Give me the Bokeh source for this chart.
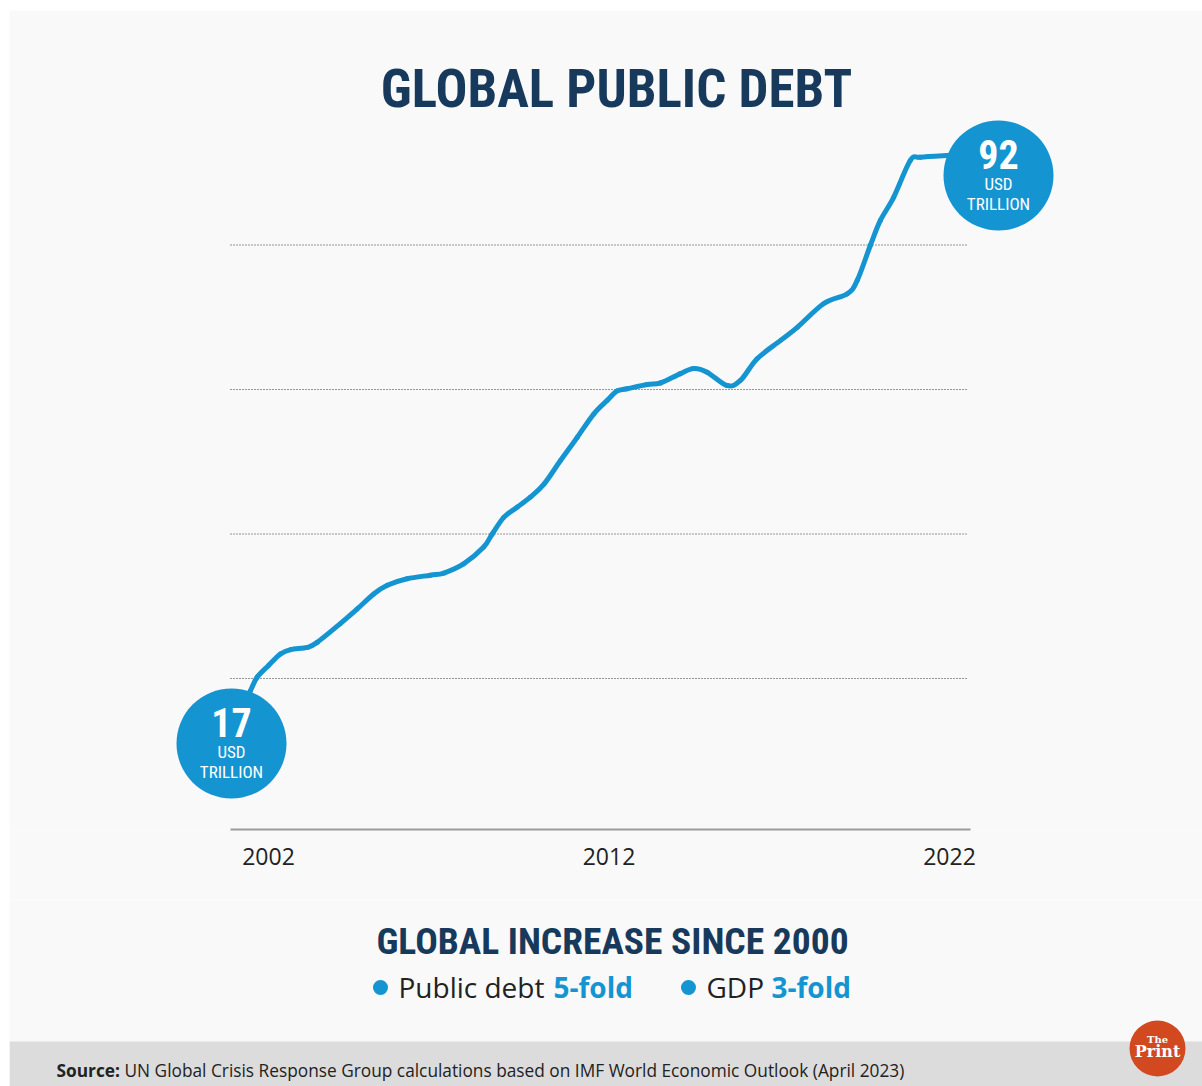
from bokeh.plotting import figure
from bokeh.models import Range1d, FixedTicker, Label, BoxAnnotation
from bokeh.layouts import column
from bokeh.embed import file_html
from bokeh.resources import INLINE
from bokeh.core.properties import value

# ---------------- data ----------------
title_text = "GLOBAL PUBLIC DEBT"
subtitle_text = "GLOBAL INCREASE SINCE 2000"
source_label = "Source:"
source_text = "UN Global Crisis Response Group calculations based on IMF World Economic Outlook (April 2023)"

years = [2001.20, 2001.47, 2001.67, 2002.00, 2002.35, 2002.65, 2003.14, 2003.43, 2004.11,
         2004.60, 2005.09, 2005.49, 2006.07, 2006.76, 2007.15, 2007.74, 2008.32, 2008.57,
         2008.91, 2009.30, 2009.69, 2010.09, 2010.58, 2011.07, 2011.55, 2011.95, 2012.24,
         2012.53, 2013.12, 2013.51, 2014.10, 2014.49, 2014.88, 2015.47, 2015.86, 2016.35,
         2017.04, 2017.53, 2018.31, 2019.00, 2019.29, 2019.68, 2019.97, 2020.36, 2020.85,
         2021.14, 2021.93, 2022.30]
debt = [15.5, 18.3, 20.2, 21.8, 23.4, 24.0, 24.3, 25.0, 27.6,
        29.6, 31.7, 32.9, 33.8, 34.3, 34.6, 35.9, 38.2, 40.0,
        42.3, 43.7, 45.1, 46.9, 50.2, 53.4, 56.6, 58.5, 59.8,
        60.1, 60.7, 60.9, 62.2, 62.9, 62.4, 60.55, 61.25, 64.25,
        66.8, 68.6, 71.9, 73.25, 75.1, 80.0, 83.4, 86.6, 91.7,
        92.15, 92.4, 92.45]

tick_years = [2002, 2012, 2022]
grid_values = [20, 40, 60, 80]
badge_numbers = ["17", "92"]
badge_units = ["USD", "USD"]
badge_scales = ["TRILLION", "TRILLION"]
legend_names = ["Public debt", "GDP"]
legend_folds = ["5-fold", "3-fold"]

# ---------------- style / layout ----------------
BLUE = "#1495d2"
NAVY = "#173a5c"
TEXT = "#222222"
BG = "#f9f9f9"
FOOT = "#dcdcdc"
ORANGE = "#d2491f"
COND = "Roboto Condensed, DejaVu Sans Condensed, Liberation Sans Narrow, Roboto"
SANS = "Open Sans"
SHIFT = 0.37   # empirical baseline correction (fraction of font size)

W, H_MAIN, H_BOT = 1193, 890, 186
OFF_X, OFF_Y = 9, 10
PX_YEAR = 34.05
PX_UNIT = 7.225
AXIS_PY = 829           # page y of axis line
FRAME_BOTTOM_BORDER = 900 - AXIS_PY

x_start = 2002 - (268 - OFF_X) / PX_YEAR
x_end = x_start + W / PX_YEAR
y_bottom = 20 - (AXIS_PY - 678) / PX_UNIT
y_top = y_bottom + (AXIS_PY - OFF_Y) / PX_UNIT


def X(px):
    return x_start + (px - OFF_X) / PX_YEAR


def Y(py, size=0.0):
    return y_bottom + (AXIS_PY - py + SHIFT * size) / PX_UNIT


p = figure(width=W, height=H_MAIN, x_range=Range1d(x_start, x_end),
           y_range=Range1d(y_bottom, y_top), toolbar_location=None,
           output_backend="svg", y_axis_location=None,
           min_border_left=0, min_border_right=0, min_border_top=0,
           min_border_bottom=FRAME_BOTTOM_BORDER,
           background_fill_color=BG, border_fill_color=BG, outline_line_color=None)
p.grid.visible = False

ax = p.xaxis[0]
ax.ticker = FixedTicker(ticks=tick_years)
ax.bounds = (X(230), X(970))
ax.axis_line_color = "#9c9c9c"
ax.axis_line_width = 2
ax.major_tick_line_color = None
ax.minor_tick_line_color = None
ax.major_tick_out = 0
ax.major_tick_in = 0
ax.major_label_standoff = 18
ax.major_label_text_font = SANS
ax.major_label_text_font_size = "23px"
ax.major_label_text_color = TEXT

# dotted reference lines
p.segment(x0=[X(230)] * len(grid_values), x1=[X(968)] * len(grid_values),
          y0=grid_values, y1=grid_values, line_color="#333333",
          line_width=1, line_dash="1 2")

# debt curve: smooth Catmull-Rom style curve through the read points
n = len(years)
x0, y0, x1, y1, cx0, cy0, cx1, cy1 = [], [], [], [], [], [], [], []
for i in range(n - 1):
    a = max(i - 1, 0)
    d = min(i + 2, n - 1)
    x0.append(years[i]); y0.append(debt[i])
    x1.append(years[i + 1]); y1.append(debt[i + 1])
    cx0.append(years[i] + (years[i + 1] - years[a]) / 6)
    cy0.append(debt[i] + (debt[i + 1] - debt[a]) / 6)
    cx1.append(years[i + 1] - (years[d] - years[i]) / 6)
    cy1.append(debt[i + 1] - (debt[d] - debt[i]) / 6)
p.bezier(x0=x0, y0=y0, x1=x1, y1=y1, cx0=cx0, cy0=cy0, cx1=cx1, cy1=cy1,
         line_color=BLUE, line_width=5, line_cap="round")

# badges
bx = [X(231), X(998)]
by = [Y(743), Y(175)]
p.scatter(bx, by, size=110, marker="circle", fill_color=BLUE, line_color=None)
p.text(bx, by, text=badge_numbers, text_font=value(COND), text_font_size=value("40px"),
       text_font_style="bold", text_color="white", text_align="center",
       text_baseline="alphabetic", y_offset=-6 - SHIFT * 40)
p.text(bx, by, text=badge_units, text_font=value(COND), text_font_size=value("17px"),
       text_color="white", text_align="center", text_baseline="alphabetic",
       y_offset=15 - SHIFT * 17)
p.text(bx, by, text=badge_scales, text_font=value(COND), text_font_size=value("17px"),
       text_color="white", text_align="center", text_baseline="alphabetic",
       y_offset=35 - SHIFT * 17)

p.add_layout(Label(x=X(616), y=Y(108, 53), text=title_text, text_font=COND,
                   text_font_size="53px", text_font_style="bold", text_color=NAVY,
                   text_align="center", text_baseline="alphabetic"))

# ---------------- bottom block ----------------
q = figure(width=W, height=H_BOT, x_range=Range1d(0, W), y_range=Range1d(H_BOT, 0),
           toolbar_location=None, output_backend="svg",
           x_axis_location=None, y_axis_location=None, min_border=0,
           background_fill_color=BG, border_fill_color=BG, outline_line_color=None)
q.grid.visible = False


def bx2(px):
    return px - OFF_X


def by2(py, size=0.0):
    return py - 900 - SHIFT * size


q.add_layout(Label(x=bx2(612), y=by2(954, 37.5), text=subtitle_text, text_font=COND,
                   text_font_size="37.5px", text_font_style="bold", text_color=NAVY,
                   text_align="center", text_baseline="alphabetic"))

q.scatter([bx2(380), bx2(688)], [by2(987), by2(987)], size=15, marker="circle",
          fill_color=BLUE, line_color=None)
for name, fold, nx, fx in zip(legend_names, legend_folds, [398, 706], [553, 771]):
    q.add_layout(Label(x=bx2(nx), y=by2(997, 28), text=name, text_font=SANS,
                       text_font_size="28px", text_color=TEXT, text_baseline="alphabetic"))
    q.add_layout(Label(x=bx2(fx), y=by2(997, 28), text=fold, text_font=SANS,
                       text_font_size="28px", text_font_style="bold", text_color=BLUE,
                       text_baseline="alphabetic"))

q.add_layout(BoxAnnotation(left=0, right=W, top=by2(1041), bottom=by2(1086),
                           fill_color=FOOT, fill_alpha=1, line_color=None,
                           level="underlay"))
q.add_layout(Label(x=bx2(56), y=by2(1076, 17.3), text=source_label, text_font=SANS,
                   text_font_size="17.3px", text_font_style="bold", text_color=TEXT,
                   text_baseline="alphabetic"))
q.add_layout(Label(x=bx2(124), y=by2(1076, 17.3), text=source_text, text_font=SANS,
                   text_font_size="17.3px", text_color=TEXT, text_baseline="alphabetic"))

# logo
q.scatter([bx2(1157)], [by2(1048)], size=56, marker="circle", fill_color=ORANGE, line_color=None)
q.add_layout(Label(x=bx2(1157), y=by2(1043, 10), text="The", text_font="DejaVu Serif",
                   text_font_size="10px", text_font_style="bold", text_color="white",
                   text_align="center", text_baseline="alphabetic"))
q.add_layout(Label(x=bx2(1157), y=by2(1057, 16), text="Print", text_font="DejaVu Serif",
                   text_font_size="16px", text_font_style="bold", text_color="white",
                   text_align="center", text_baseline="alphabetic"))

layout = column(p, q, margin=(OFF_Y, 0, 0, OFF_X), spacing=0)

open("out.html", "w").write(file_html(layout, INLINE))
